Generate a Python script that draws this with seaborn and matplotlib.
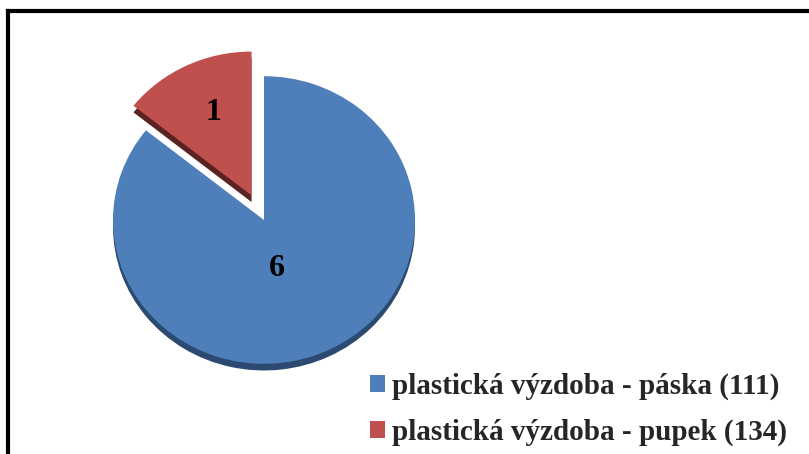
import numpy as np
import matplotlib
matplotlib.use("Agg")
import matplotlib.pyplot as plt
from matplotlib.patches import Rectangle
from matplotlib.lines import Line2D
import seaborn as sns

# Decoration types and counts
categories = ["plastická výzdoba - páska (111)", "plastická výzdoba - pupek (134)"]
counts = [6, 1]
colors = ["#4f7fba", "#c0504d"]
rim_colors = ["#2c4a70", "#5a2220"]
explode_frac = [0.0, 0.19]

sns.set_theme(style="white")
plt.rcParams["font.family"] = ["Liberation Serif", "DejaVu Serif"]
plt.rcParams["font.weight"] = "bold"

W, H = 809, 454
fig = plt.figure(figsize=(W / 100, H / 100), dpi=100)
ax = fig.add_axes([0, 0, 1, 1])

# slight vertical squash to give the pie a tilted look
k = 1.05
cx, cy = 264, (H - 220) * k
r = 151
explode = [e * r for e in explode_frac]

# dark rim drawn underneath, shifted down
ax.pie(counts, colors=rim_colors, explode=explode, startangle=90,
       counterclock=False, radius=r, center=(cx, cy - 7), frame=True,
       wedgeprops=dict(linewidth=0))
wedges, _ = ax.pie(counts, colors=colors, explode=explode, startangle=90,
                   counterclock=False, radius=r, center=(cx, cy), frame=True,
                   wedgeprops=dict(linewidth=0))
ax.set_aspect("auto")
ax.set_xlim(0, W)
ax.set_ylim(0, H * k)
ax.set_axis_off()

# value labels inside each wedge
label_pos = [(0.35, -12.0), (0.63, -2.0)]  # (fraction of radius, angle shift)
for w, val, (frac, dth) in zip(wedges, counts, label_pos):
    mid = np.deg2rad((w.theta1 + w.theta2) / 2 + dth)
    x0, y0 = w.center
    ax.text(x0 + frac * r * np.cos(mid), y0 + frac * r * np.sin(mid), str(val),
            ha="center", va="center", fontsize=23, fontweight="bold",
            color="black")

handles = [Rectangle((0, 0), 1, 1, facecolor=c, edgecolor="none") for c in colors]
fig.legend(handles, categories, loc="upper left",
           bbox_to_anchor=(370 / W, 1 - 373 / H), frameon=False,
           prop=dict(family=["Liberation Serif"], weight="bold", size=21),
           handlelength=0.52, handleheight=0.52, handletextpad=0.25,
           labelspacing=0.62, borderpad=0, borderaxespad=0)

# frame lines along the top and left
fig.add_artist(Line2D([8 / W, 8 / W], [0, 1 - 11 / H], transform=fig.transFigure,
                      color="black", linewidth=3, solid_capstyle="projecting"))
fig.add_artist(Line2D([8 / W, 1], [1 - 11 / H, 1 - 11 / H], transform=fig.transFigure,
                      color="black", linewidth=3, solid_capstyle="projecting"))

fig.savefig("out.png", dpi=100)
